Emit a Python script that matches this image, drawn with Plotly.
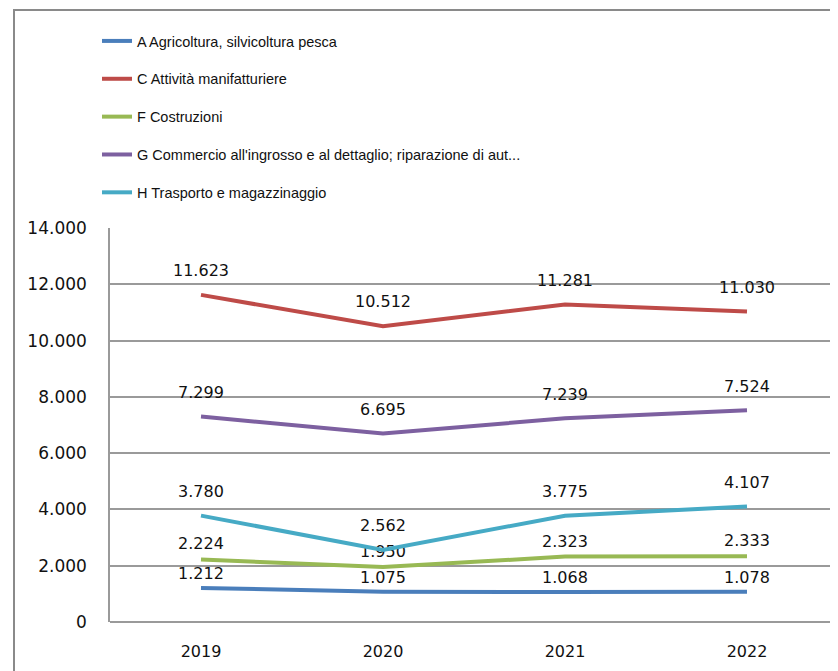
import plotly.graph_objects as go

years = ["2019", "2020", "2021", "2022"]
series_names = [
    "A Agricoltura, silvicoltura pesca",
    "C Attività manifatturiere",
    "F Costruzioni",
    "G Commercio all'ingrosso e al dettaglio; riparazione di aut...",
    "H Trasporto e magazzinaggio",
]
agricoltura = [1212, 1075, 1068, 1078]
manifatturiere = [11623, 10512, 11281, 11030]
costruzioni = [2224, 1950, 2323, 2333]
commercio = [7299, 6695, 7239, 7524]
trasporto = [3780, 2562, 3775, 4107]
colors = ["#4a7ebb", "#be4b48", "#98b954", "#7d60a0", "#46aac5"]
# invisible marker sizes control how far each series' labels sit above the line
label_pad = [0, 22, 8, 22, 22]

values = [agricoltura, manifatturiere, costruzioni, commercio, trasporto]

fig = go.Figure()
for i, (name, vals, col, pad) in enumerate(zip(series_names, values, colors, label_pad)):
    fig.add_trace(go.Scatter(
        x=years, y=vals, name=name, legendgroup=f"g{i}",
        mode="lines+markers+text",
        line=dict(color=col, width=4),
        marker=dict(size=pad, color="rgba(0,0,0,0)"),
        texttemplate="%{y:,}", textposition="top center",
        textfont=dict(family="DejaVu Sans, Verdana, sans-serif", size=16, color="#111"),
    ))

# page body has an 8px margin; figure coordinates are offset by (8, 8)
W, H = 830, 663
L, R, T, B = 102, 0, 220, 49
pw = W - L - R
ph = H - T - B

fig.update_layout(
    width=W, height=H,
    margin=dict(l=L, r=R, t=T, b=B, autoexpand=False),
    paper_bgcolor="white", plot_bgcolor="white",
    separators=",.",
    showlegend=True,
    legend=dict(
        x=-13 / pw, xanchor="left",
        y=(H - B - 17) / ph, yanchor="top",
        font=dict(family="Liberation Sans, Arial, sans-serif", size=14.5, color="#111"),
        tracegroupgap=16, bgcolor="rgba(0,0,0,0)",
        itemwidth=30,
    ),
    xaxis=dict(
        type="category", range=[-0.5, 3.5], showgrid=False, zeroline=False,
        showline=False, ticks="", ticklabelstandoff=18,
        tickfont=dict(family="DejaVu Sans, Verdana, sans-serif", size=16, color="#111"),
    ),
    yaxis=dict(
        range=[0, 14000], dtick=2000, tickformat=",d",
        showgrid=True, gridcolor="#9a9a9a", gridwidth=1.5,
        zeroline=True, zerolinecolor="#9a9a9a", zerolinewidth=1.5,
        showline=True, linecolor="#9a9a9a", linewidth=1.5,
        ticks="", ticklabelstandoff=18,
        tickfont=dict(family="DejaVu Sans, Verdana, sans-serif", size=17, color="#111"),
    ),
    shapes=[dict(
        type="rect", xref="paper", yref="paper",
        x0=(6 - L) / pw, x1=1.05,
        y0=-0.3, y1=(H - B - 2) / ph,
        line=dict(color="#8a8a8a", width=2), fillcolor="rgba(0,0,0,0)",
        layer="below",
    )],
)

fig.write_html("out.html")
